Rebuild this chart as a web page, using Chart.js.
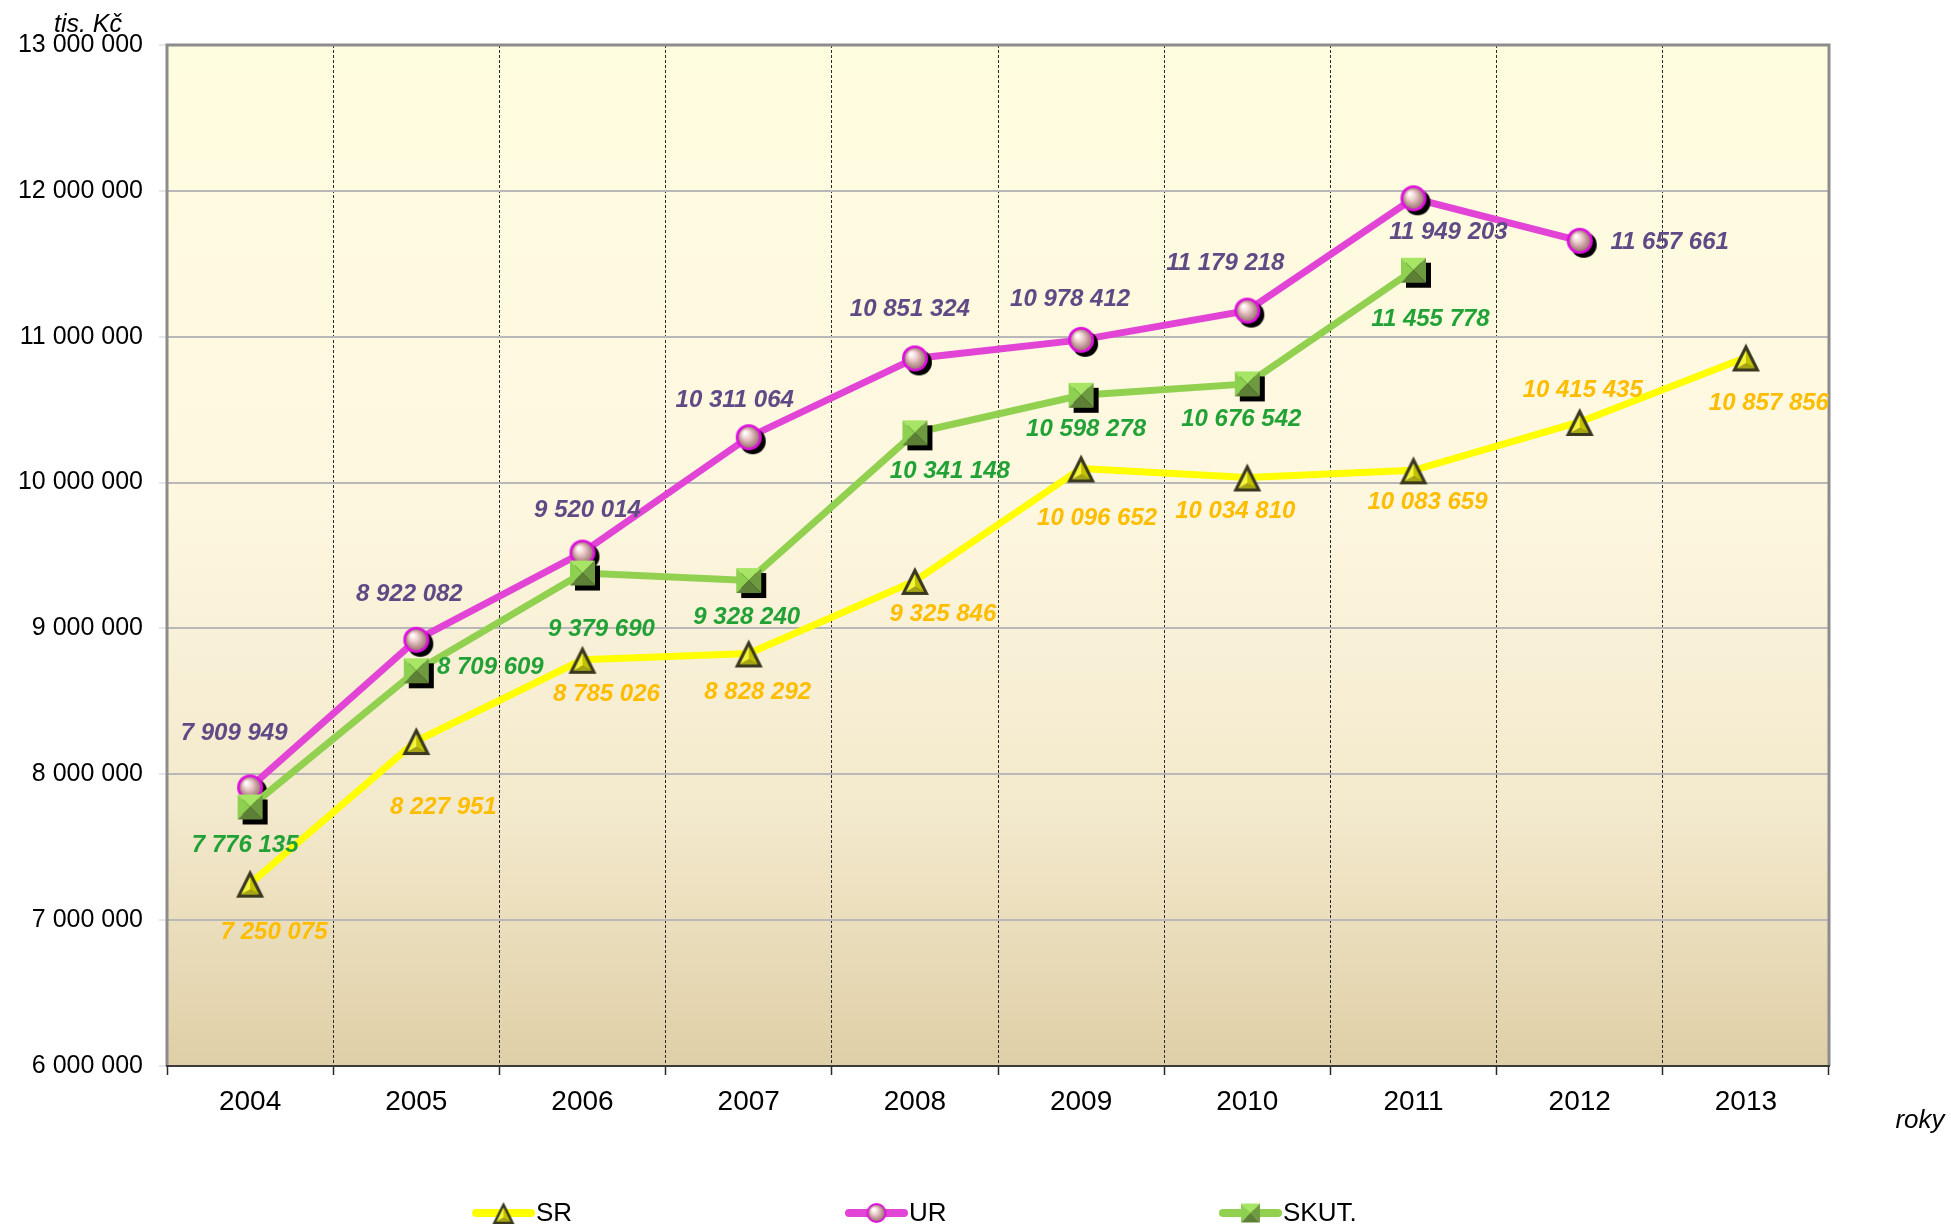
<!DOCTYPE html>
<html>
<head>
<meta charset="utf-8">
<script src="https://cdn.jsdelivr.net/npm/chart.js@4.4.0/dist/chart.umd.min.js"></script>
<style>
  html, body { margin: 0; padding: 0; background: #ffffff; }
  canvas { display: block; }
</style>
</head>
<body>
<canvas id="c" width="1951" height="1229"></canvas>
<script>
// ---- data ----
const years = ['2004', '2005', '2006', '2007', '2008', '2009', '2010', '2011', '2012', '2013'];
const srValues = [7250075, 8227951, 8785026, 8828292, 9325846, 10096652, 10034810, 10083659, 10415435, 10857856];
const urValues = [7909949, 8922082, 9520014, 10311064, 10851324, 10978412, 11179218, 11949203, 11657661, null];
const skutValues = [7776135, 8709609, 9379690, 9328240, 10341148, 10598278, 10676542, 11455778, null, null];
const seriesNames = ['SR', 'UR', 'SKUT.'];
const yTickValues = [6000000, 7000000, 8000000, 9000000, 10000000, 11000000, 12000000, 13000000];
const yAxisTitle = 'tis. Kč';
const xAxisTitle = 'roky';

// label placement offsets (px) relative to each point
const srLabelOffsets = [[24,49],[27,66],[24,35],[9,39],[28,33],[16,50],[-12,34],[14,32],[3,-32],[23,46]];
const urLabelOffsets = [[-16,-54],[-7,-45],[5,-42],[-14,-37],[-5,-49],[-11,-40],[-22,-47],[35,34],[90,2],null];
const skutLabelOffsets = [[-5,38],[74,-3],[19,56],[-2,37],[35,39],[5,34],[-6,35],[17,49],null,null];

function fmt(v) {
  return String(v).replace(/\B(?=(\d{3})+(?!\d))/g, ' ');
}

// ---- marker images ----
function makeTriangle(s) {
  const pad = 4;
  const c = document.createElement('canvas');
  c.width = c.height = Math.round(s + 2 * pad);
  const g = c.getContext('2d');
  const cx = c.width / 2, top = pad, bot = pad + s, left = pad, right = pad + s;
  g.beginPath(); g.moveTo(cx, top); g.lineTo(right, bot); g.lineTo(left, bot); g.closePath();
  g.fillStyle = '#3a3920'; g.fill();
  const k = s / 28;
  const A = [cx, top + 7 * k], L = [left + 5 * k, bot - 3 * k], R = [right - 5 * k, bot - 3 * k];
  const C = [cx, bot - 8 * k];
  function tri(p1, p2, p3, col) {
    g.beginPath(); g.moveTo(p1[0], p1[1]); g.lineTo(p2[0], p2[1]); g.lineTo(p3[0], p3[1]); g.closePath();
    g.fillStyle = col; g.fill();
  }
  tri(A, L, C, '#f4f43a');
  tri(A, R, C, '#c2c200');
  tri(L, R, C, '#a6a614');
  return c;
}
function makeSphere(r, sh) {
  const c = document.createElement('canvas');
  c.width = c.height = Math.round(2 * (r + sh + 2));
  const g = c.getContext('2d');
  const cx = c.width / 2, cy = c.height / 2;
  if (sh > 0) { g.beginPath(); g.arc(cx + sh, cy + sh, r, 0, Math.PI * 2); g.fillStyle = '#000'; g.fill(); }
  g.beginPath(); g.arc(cx, cy, r, 0, Math.PI * 2); g.fillStyle = '#e010e0'; g.fill();
  const grd = g.createRadialGradient(cx - r * 0.3, cy - r * 0.35, 1, cx, cy, r * 0.85);
  grd.addColorStop(0, '#ffffff');
  grd.addColorStop(0.35, '#efcfcf');
  grd.addColorStop(1, '#9c6e6e');
  g.beginPath(); g.arc(cx, cy, r * 0.8, 0, Math.PI * 2); g.fillStyle = grd; g.fill();
  return c;
}
function makeSquare(s, sh) {
  const c = document.createElement('canvas');
  c.width = c.height = Math.round(s + 2 * sh + 4);
  const g = c.getContext('2d');
  const x0 = (c.width - s) / 2, y0 = (c.height - s) / 2;
  if (sh > 0) { g.fillStyle = '#000'; g.fillRect(x0 + sh, y0 + sh, s, s); }
  const cx = x0 + s / 2, cy = y0 + s / 2;
  function tri(p1, p2, col) {
    g.beginPath(); g.moveTo(p1[0], p1[1]); g.lineTo(p2[0], p2[1]); g.lineTo(cx, cy); g.closePath();
    g.fillStyle = col; g.fill();
  }
  const TL = [x0, y0], TR = [x0 + s, y0], BR = [x0 + s, y0 + s], BL = [x0, y0 + s];
  tri(TL, TR, '#a6e664');
  tri(TL, BL, '#8ed150');
  tri(TR, BR, '#6e9a40');
  tri(BL, BR, '#5e8036');
  return c;
}
const triImg = makeTriangle(28), sphImg = makeSphere(13, 4), sqImg = makeSquare(25, 5);
const triImgS = makeTriangle(22), sphImgS = makeSphere(10, 0), sqImgS = makeSquare(19, 0);

const lineColors = ['#ffff00', '#e244d6', '#92d050'];
const labelColors = ['#ffbd00', '#5f4a86', '#22a236'];
const labelOffsets = [srLabelOffsets, urLabelOffsets, skutLabelOffsets];
const legendImgs = [triImgS, sphImgS, sqImgS];

const bgPlugin = {
  id: 'bg',
  beforeDraw(chart) {
    const { ctx, chartArea: a } = chart;
    const grd = ctx.createLinearGradient(0, a.top, 0, a.bottom);
    grd.addColorStop(0, '#fffde0');
    grd.addColorStop(0.45, '#fdf7df');
    grd.addColorStop(0.75, '#f3e9cc');
    grd.addColorStop(1, '#dfcfa7');
    ctx.save();
    ctx.fillStyle = grd;
    ctx.fillRect(a.left, a.top, a.right - a.left, a.bottom - a.top);
    ctx.restore();
  },
  beforeDatasetsDraw(chart) {
    const { ctx, chartArea: a } = chart;
    ctx.save();
    ctx.strokeStyle = '#8c8c8c';
    ctx.lineWidth = 3;
    ctx.beginPath();
    ctx.moveTo(a.left, a.bottom); ctx.lineTo(a.left, a.top); ctx.lineTo(a.right, a.top); ctx.lineTo(a.right, a.bottom);
    ctx.stroke();
    ctx.strokeStyle = '#3a3a3a';
    ctx.lineWidth = 2;
    ctx.beginPath(); ctx.moveTo(a.left - 1, a.bottom); ctx.lineTo(a.right + 1, a.bottom); ctx.stroke();
    ctx.restore();
  },
  afterDatasetsDraw(chart) {
    const ctx = chart.ctx;
    ctx.save();
    ctx.font = 'italic bold 24px "Liberation Sans", Arial, sans-serif';
    ctx.textAlign = 'center';
    ctx.textBaseline = 'middle';
    chart.data.datasets.forEach((ds, di) => {
      const meta = chart.getDatasetMeta(di);
      ds.data.forEach((v, i) => {
        if (v === null || v === undefined) return;
        const off = labelOffsets[di][i];
        if (!off) return;
        const el = meta.data[i];
        ctx.fillStyle = labelColors[di];
        ctx.fillText(fmt(v), el.x + off[0], el.y + off[1]);
      });
    });
    ctx.restore();
  },
  afterDraw(chart) {
    const ctx = chart.ctx;
    ctx.save();
    ctx.fillStyle = '#000';
    ctx.textBaseline = 'middle';
    ctx.textAlign = 'center';
    ctx.font = 'italic 25px "Liberation Sans", Arial, sans-serif';
    ctx.fillText(yAxisTitle, 88, 25);
    ctx.font = 'italic 26px "Liberation Sans", Arial, sans-serif';
    ctx.fillText(xAxisTitle, 1920, 1121);
    // legend
    const starts = [476, 849, 1223];
    const ly = 1213;
    ctx.font = '26px "Liberation Sans", Arial, sans-serif';
    ctx.textAlign = 'left';
    seriesNames.forEach((n, i) => {
      const x0 = starts[i], x1 = x0 + 55;
      ctx.strokeStyle = lineColors[i];
      ctx.lineWidth = 8;
      ctx.lineCap = 'round';
      ctx.beginPath(); ctx.moveTo(x0, ly); ctx.lineTo(x1, ly); ctx.stroke();
      const img = legendImgs[i];
      ctx.drawImage(img, (x0 + x1) / 2 - img.width / 2, ly - img.height / 2);
      ctx.fillStyle = '#000';
      ctx.fillText(n, x1 + 5, ly + 1);
    });
    ctx.restore();
  }
};

const chart = new Chart(document.getElementById('c'), {
  type: 'line',
  data: {
    labels: years,
    datasets: [
      { label: seriesNames[0], data: srValues, borderColor: lineColors[0], backgroundColor: lineColors[0],
        borderWidth: 7, pointStyle: triImg, pointRadius: 12, order: 2, tension: 0, spanGaps: false },
      { label: seriesNames[1], data: urValues, borderColor: lineColors[1], backgroundColor: lineColors[1],
        borderWidth: 7, pointStyle: sphImg, pointRadius: 12, order: 1, tension: 0 },
      { label: seriesNames[2], data: skutValues, borderColor: lineColors[2], backgroundColor: lineColors[2],
        borderWidth: 7, pointStyle: sqImg, pointRadius: 12, order: 0, tension: 0 }
    ]
  },
  options: {
    responsive: false,
    animation: false,
    devicePixelRatio: 1,
    layout: { padding: { left: 0, top: 45, right: 122, bottom: 103 } },
    plugins: {
      legend: { display: false },
      tooltip: { enabled: false },
      title: { display: false }
    },
    scales: {
      x: {
        type: 'category',
        offset: true,
        grid: { offset: true, display: true, drawOnChartArea: true, color: '#2a2a2a', lineWidth: 1,
                tickLength: 9, tickColor: '#2a2a2a', tickWidth: 1.5, tickBorderDash: [] },
        border: { display: false, dash: [3, 2] },
        ticks: { color: '#000', padding: 10, font: { size: 28, family: '"Liberation Sans", Arial, sans-serif', lineHeight: 1.2 }, maxRotation: 0 },
        afterFit(s) { s.height = 60; }
      },
      y: {
        min: 6000000,
        max: 13000000,
        afterBuildTicks(s) { s.ticks = yTickValues.map(v => ({ value: v })); },
        grid: { color: '#b8b8b8', lineWidth: 2, tickLength: 8, tickColor: '#d0d0d0', tickWidth: 1 },
        border: { display: false },
        ticks: { color: '#000', padding: 16, font: { size: 25, family: '"Liberation Sans", Arial, sans-serif' },
                 callback: (v) => fmt(v) },
        afterFit(s) { s.width = 167; }
      }
    }
  },
  plugins: [bgPlugin]
});
</script>
</body>
</html>
